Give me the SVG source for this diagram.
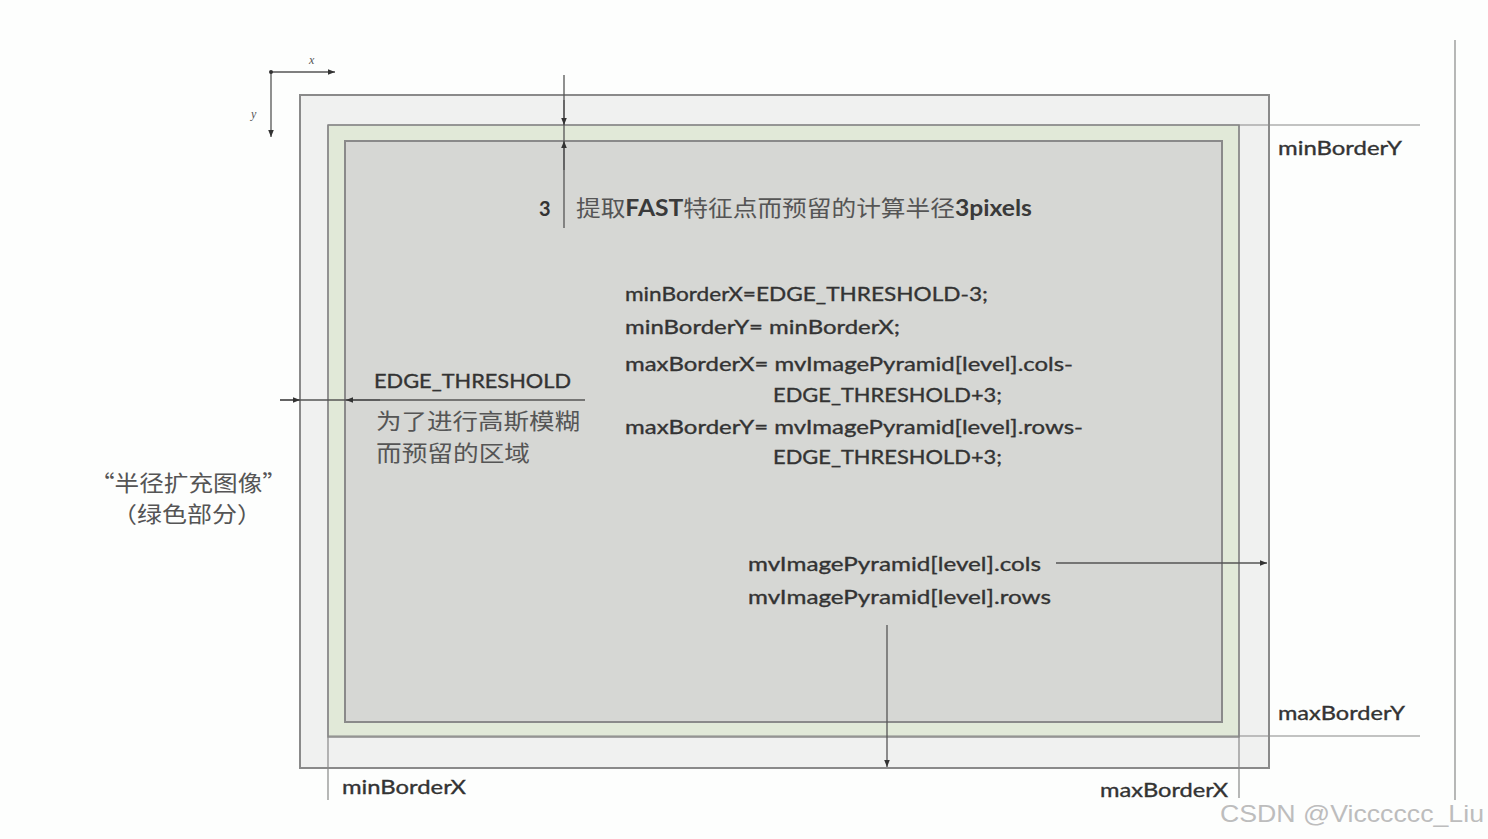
<svg xmlns="http://www.w3.org/2000/svg" width="1488" height="839" viewBox="0 0 1488 839">
<defs>
<marker id="arr" viewBox="0 0 10 10" refX="10" refY="5" markerWidth="9" markerHeight="7" markerUnits="userSpaceOnUse" orient="auto">
<path d="M0,1 L10,5 L0,9 Z" fill="#333"/>
</marker>
</defs>
<style>
.lat{font-family:Lato,"Open Sans","Liberation Sans",sans-serif;font-size:20px;fill:#333;stroke:#333;stroke-width:0.35}
.cjk{font-family:"Noto Sans CJK SC","Noto Sans CJK JP",sans-serif;font-size:22px;fill:#555}
.ln{stroke:#555;stroke-width:1.3;fill:none}
.thin{stroke:#888;stroke-width:1.2;fill:none}
</style>
<rect width="1488" height="839" fill="#fdfefd"/>
<g id="outer-image">
<rect x="300" y="95" width="969" height="673" fill="#f0f1f0" stroke="#8a8a8a" stroke-width="2"/>
</g>
<g id="green-region">
<rect x="328" y="125" width="911" height="612" fill="#e1e9d8" stroke="#8a8a8a" stroke-width="1.5"/>
</g>
<g id="inner-image">
<rect x="345" y="141" width="877" height="581" fill="#d6d7d4" stroke="#8a8a8a" stroke-width="2"/>
</g>
<g id="connectors">
<path class="ln" d="M270,72 L335,72" marker-end="url(#arr)"/>
<path class="ln" d="M271,72 L271,137" marker-end="url(#arr)"/>
<circle cx="271" cy="72" r="2" fill="#333"/>
<path class="thin" d="M328,125 L1420,125"/>
<path class="thin" d="M328,736 L1420,736"/>
<path class="thin" d="M328,125 L328,800"/>
<path class="thin" d="M1239,125 L1239,798"/>
<path class="thin" d="M1455,40 L1455,800"/>
<path class="ln" d="M564,75 L564,228"/>
<path class="ln" d="M564,100 L564,125" marker-end="url(#arr)"/>
<path class="ln" d="M564,170 L564,141" marker-end="url(#arr)"/>
<path class="ln" d="M280,400 L585,400"/>
<path class="ln" d="M280,400 L300,400" marker-end="url(#arr)"/>
<path class="ln" d="M380,400 L346,400" marker-end="url(#arr)"/>
<path class="ln" d="M1056,563 L1267,563" marker-end="url(#arr)"/>
<path class="ln" d="M887,625 L887,767" marker-end="url(#arr)"/>
</g>
<g id="axis-labels">
<text x="309" y="64" font-family="Liberation Serif,serif" font-style="italic" font-size="12" fill="#555">x</text>
<text x="251" y="118" font-family="Liberation Serif,serif" font-style="italic" font-size="12" fill="#555">y</text>
</g>
<g id="label-3">
<text x="539" y="216" font-family="Lato,sans-serif" font-weight="bold" font-size="20" fill="#333">3</text>
<text x="576" y="216" textLength="456" lengthAdjust="spacingAndGlyphs" font-size="22" fill="#555" font-family="Lato,&quot;Noto Sans CJK SC&quot;,sans-serif">提取<tspan font-weight="bold" fill="#3a3a3a">FAST</tspan>特征点而预留的计算半径<tspan font-weight="bold" fill="#3a3a3a">3pixels</tspan></text>
</g>
<g id="formulas">
<text class="lat" x="625" y="301" textLength="363" lengthAdjust="spacingAndGlyphs">minBorderX=EDGE_THRESHOLD-3;</text>
<text class="lat" x="625" y="334" textLength="275" lengthAdjust="spacingAndGlyphs">minBorderY= minBorderX;</text>
<text class="lat" x="625" y="371" textLength="448" lengthAdjust="spacingAndGlyphs">maxBorderX= mvImagePyramid[level].cols-</text>
<text class="lat" x="773" y="402" textLength="229" lengthAdjust="spacingAndGlyphs">EDGE_THRESHOLD+3;</text>
<text class="lat" x="625" y="434" textLength="458" lengthAdjust="spacingAndGlyphs">maxBorderY= mvImagePyramid[level].rows-</text>
<text class="lat" x="773" y="464" textLength="229" lengthAdjust="spacingAndGlyphs">EDGE_THRESHOLD+3;</text>
</g>
<g id="edge-threshold">
<text class="lat" x="374" y="388" textLength="197" lengthAdjust="spacingAndGlyphs">EDGE_THRESHOLD</text>
<text class="cjk" x="376" y="429" textLength="204" lengthAdjust="spacingAndGlyphs" fill="#666">为了进行高斯模糊</text>
<text class="cjk" x="376" y="461" textLength="154" lengthAdjust="spacingAndGlyphs" fill="#666">而预留的区域</text>
</g>
<g id="green-label">
<text class="cjk" x="90" y="491" textLength="197" lengthAdjust="spacingAndGlyphs" fill="#555">“半径扩充图像”</text>
<text class="cjk" x="112" y="522" textLength="150" lengthAdjust="spacingAndGlyphs" fill="#555">（绿色部分）</text>
</g>
<g id="cols-rows">
<text class="lat" x="748" y="571" textLength="293" lengthAdjust="spacingAndGlyphs">mvImagePyramid[level].cols</text>
<text class="lat" x="748" y="604" textLength="303" lengthAdjust="spacingAndGlyphs">mvImagePyramid[level].rows</text>
</g>
<g id="border-labels">
<text class="lat" x="1278" y="155" textLength="124" lengthAdjust="spacingAndGlyphs">minBorderY</text>
<text class="lat" x="1278" y="720" textLength="127" lengthAdjust="spacingAndGlyphs">maxBorderY</text>
<text class="lat" x="342" y="794" textLength="124" lengthAdjust="spacingAndGlyphs">minBorderX</text>
<text class="lat" x="1100" y="797" textLength="128" lengthAdjust="spacingAndGlyphs">maxBorderX</text>
</g>
<g id="watermark">
<text x="1220" y="822" font-family="Liberation Sans,Arial,sans-serif" font-size="24" fill="#bdbdbd" textLength="264" lengthAdjust="spacingAndGlyphs">CSDN @Vicccccc_Liu</text>
</g>
</svg>
